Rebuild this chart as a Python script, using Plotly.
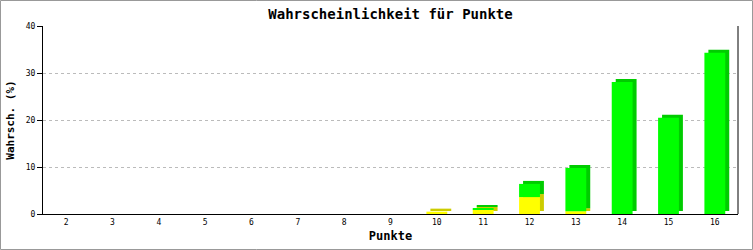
import plotly.graph_objects as go

categories = ["2", "3", "4", "5", "6", "7", "8", "9", "10", "11", "12", "13", "14", "15", "16"]
yellow_vals = [0, 0, 0, 0, 0, 0, 0, 0, 0.5, 0.9, 3.6, 0.6, 0, 0, 0]
green_vals = [0, 0, 0, 0, 0, 0, 0, 0, 0, 0.35, 2.8, 9.2, 28.1, 20.5, 34.3]

title_text = "Wahrscheinlichkeit für Punkte"
x_title = "Punkte"
y_title = "Wahrsch. (%)"

W, H = 753, 250
ML, MR, MT, MB = 43, 15, 26, 36
PW, PH = W - ML - MR, H - MT - MB

BAR_W = 0.45
DX = 0.086   # depth offset (category units)
DY = 0.64    # depth offset (data units)

mono = "DejaVu Sans Mono"

fig = go.Figure()

# depth (side/top) faces
fig.add_trace(go.Bar(x=categories, y=yellow_vals, base=[DY] * len(categories),
                     width=BAR_W, offset=-BAR_W / 2 + DX,
                     marker=dict(color="#cccc00", line=dict(width=0)), hoverinfo="skip"))
fig.add_trace(go.Bar(x=categories, y=green_vals, base=[v + DY for v in yellow_vals],
                     width=BAR_W, offset=-BAR_W / 2 + DX,
                     marker=dict(color="#00cc00", line=dict(width=0)), hoverinfo="skip"))
# front faces
fig.add_trace(go.Bar(x=categories, y=yellow_vals, base=[0] * len(categories),
                     width=BAR_W, offset=-BAR_W / 2,
                     marker=dict(color="#ffff00", line=dict(width=0))))
fig.add_trace(go.Bar(x=categories, y=green_vals, base=yellow_vals,
                     width=BAR_W, offset=-BAR_W / 2,
                     marker=dict(color="#00ff00", line=dict(width=0))))

fig.update_layout(
    width=W, height=H,
    margin=dict(l=ML, r=MR, t=MT, b=MB, pad=0, autoexpand=False),
    paper_bgcolor="white", plot_bgcolor="white",
    barmode="overlay", showlegend=False,
    title=dict(text="<b>" + title_text + "</b>", x=0.5, xref="paper", xanchor="center",
               y=1 - 14 / H, yanchor="middle", yref="container",
               font=dict(family=mono, size=14, color="black")),
    xaxis=dict(type="category", showgrid=False, ticks="", showline=True,
               linecolor="black", linewidth=1, zeroline=False, automargin=False,
               tickfont=dict(family=mono, size=8, color="black"),
               title=dict(text="<b>" + x_title + "</b>", standoff=6,
                          font=dict(family=mono, size=12, color="black"))),
    yaxis=dict(range=[0, 40], tickvals=[0, 10, 20, 30, 40], ticks="outside", ticklen=5,
               tickcolor="black", showline=True, linecolor="black", linewidth=1,
               showgrid=True, gridcolor="#bbbbbb", griddash="3px,3px", gridwidth=1,
               zeroline=False, automargin=False,
               tickfont=dict(family=mono, size=8, color="black"),
               title=dict(text="<b>" + y_title + "</b>", standoff=8,
                          font=dict(family=mono, size=11, color="black"))),
    shapes=[
        dict(type="line", xref="paper", yref="paper", x0=1, x1=1, y0=0, y1=1,
             line=dict(color="black", width=1)),
        dict(type="rect", xref="paper", yref="paper",
             x0=(0.5 - ML) / PW, x1=(W - 0.5 - ML) / PW,
             y0=-(MB - 0.5) / PH, y1=(PH + MT - 0.5) / PH,
             line=dict(color="#999999", width=1), layer="above"),
    ],
)

fig.write_html("out.html")
